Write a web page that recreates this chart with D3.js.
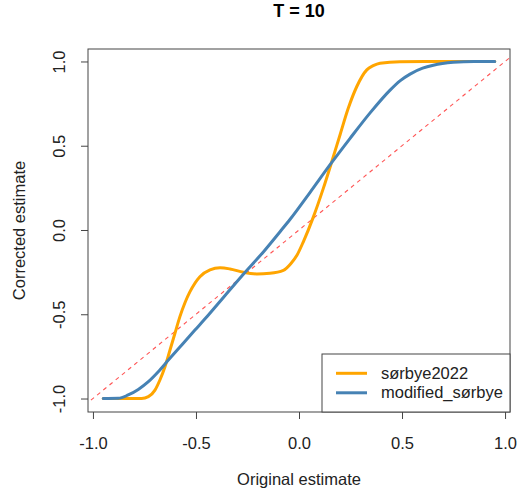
<!DOCTYPE html>
<html>
<head>
<meta charset="utf-8">
<script src="https://cdn.jsdelivr.net/npm/d3@7"></script>
<style>
  body { margin: 0; background: #fff; }
  svg { font-family: "Liberation Sans", Arial, sans-serif; }
</style>
</head>
<body>
<svg id="viz1"></svg>
<script>
// values
var title = "T = 10"
var xTicks = [-1.0, -0.5, 0.0, 0.5, 1.0]
var yTicks = [-1.0, -0.5, 0.0, 0.5, 1.0]
var seriesNames = ["sørbye2022", "modified_sørbye"]
var seriesColors = ["#ffa500", "#4682b4"]

var sorbyeX = [-0.95, -0.85, -0.764, -0.731, -0.699, -0.675, -0.65, -0.626, -0.602, -0.578, -0.553, -0.529, -0.481, -0.432, -0.383, -0.335, -0.27, -0.205, -0.141, -0.076, -0.04, -0.01, 0.021, 0.069, 0.118, 0.159, 0.199, 0.239, 0.28, 0.329, 0.36, 0.393, 0.49, 0.7, 0.95]
var sorbyeY = [-1.0, -1.0, -1.0, -0.989, -0.95, -0.89, -0.81, -0.712, -0.613, -0.514, -0.43, -0.366, -0.277, -0.237, -0.224, -0.231, -0.251, -0.261, -0.257, -0.24, -0.2, -0.15, -0.07, 0.075, 0.247, 0.405, 0.564, 0.722, 0.85, 0.95, 0.975, 0.99, 0.999, 1.0, 1.0]

var modX = [-0.95, -0.877, -0.829, -0.78, -0.731, -0.683, -0.634, -0.569, -0.505, -0.456, -0.367, -0.27, -0.173, -0.092, -0.044, 0.053, 0.15, 0.248, 0.345, 0.442, 0.49, 0.539, 0.6, 0.652, 0.749, 0.85, 0.95]
var modY = [-1.0, -0.999, -0.979, -0.946, -0.9, -0.841, -0.772, -0.682, -0.594, -0.527, -0.40, -0.262, -0.13, -0.01, 0.062, 0.222, 0.386, 0.544, 0.695, 0.83, 0.885, 0.925, 0.96, 0.978, 0.995, 1.0, 1.0]

var width = 522
var height = 498
//plot region (note: "top" is taken by window.top, so prefix these)
var pLeft = 88, pRight = 510, pTop = 49, pBottom = 412
var fontSize = "16.5px"

var svg = d3.select("#viz1")
	.attr("width", width)
	.attr("height", height)

var x = d3.scaleLinear().domain([-1.024, 1.024]).range([pLeft, pRight])
var y = d3.scaleLinear().domain([-1.08, 1.074]).range([pBottom, pTop])
var fmt = d => d.toFixed(1)

svg.append("defs").append("clipPath").attr("id", "clip")
	.append("rect")
	.attr("x", pLeft).attr("y", pTop)
	.attr("width", pRight - pLeft).attr("height", pBottom - pTop)

//title
svg.append("text")
	.attr("x", (pLeft + pRight) / 2)
	.attr("y", 17)
	.attr("text-anchor", "middle")
	.style("font-size", "18px")
	.style("font-weight", "bold")
	.text(title)

//axes
var xAxis = svg.append("g")
	.attr("transform", "translate(0," + pBottom + ")")
	.call(d3.axisBottom(x).tickValues(xTicks).tickSize(7).tickPadding(18).tickFormat(fmt))
xAxis.select(".domain").remove()
xAxis.selectAll("line").attr("stroke", "#444")
xAxis.selectAll("text").style("font-size", fontSize).attr("fill", "#222")
	.style("font-family", "Liberation Sans, Arial, sans-serif")

var yAxis = svg.append("g")
	.attr("transform", "translate(" + pLeft + ",0)")
	.call(d3.axisLeft(y).tickValues(yTicks).tickSize(7).tickFormat(fmt))
yAxis.select(".domain").remove()
yAxis.selectAll("line").attr("stroke", "#444")
yAxis.selectAll("text")
	.attr("x", 0).attr("y", 0).attr("dy", null)
	.attr("text-anchor", "middle")
	.attr("transform", "translate(-23,0) rotate(-90)")
	.style("font-size", fontSize).attr("fill", "#222")
	.style("font-family", "Liberation Sans, Arial, sans-serif")

//axis labels
svg.append("text")
	.attr("x", (pLeft + pRight) / 2)
	.attr("y", 485)
	.attr("text-anchor", "middle")
	.style("font-size", fontSize)
	.attr("fill", "#222")
	.text("Original estimate")

svg.append("text")
	.attr("transform", "translate(25," + (pTop + pBottom) / 2 + ") rotate(-90)")
	.attr("text-anchor", "middle")
	.style("font-size", fontSize)
	.attr("fill", "#222")
	.text("Corrected estimate")

var plot = svg.append("g").attr("clip-path", "url(#clip)")

//identity line
plot.append("line")
	.attr("x1", x(-1.1)).attr("y1", y(-1.1))
	.attr("x2", x(1.1)).attr("y2", y(1.1))
	.attr("stroke", "#f55")
	.attr("stroke-width", 1.1)
	.attr("stroke-dasharray", "4,4")

var line = d3.line()
	.x(d => x(d[0]))
	.y(d => y(d[1]))
	.curve(d3.curveMonotoneX)

plot.append("path")
	.datum(d3.zip(sorbyeX, sorbyeY))
	.attr("d", line)
	.attr("fill", "none")
	.attr("stroke", seriesColors[0])
	.attr("stroke-width", 3)
	.attr("stroke-linecap", "round")

plot.append("path")
	.datum(d3.zip(modX, modY))
	.attr("d", line)
	.attr("fill", "none")
	.attr("stroke", seriesColors[1])
	.attr("stroke-width", 3)
	.attr("stroke-linecap", "round")

//box
svg.append("rect")
	.attr("x", pLeft).attr("y", pTop)
	.attr("width", pRight - pLeft).attr("height", pBottom - pTop)
	.attr("fill", "none")
	.attr("stroke", "#444")

//legend
var legend = svg.append("g")
legend.append("rect")
	.attr("x", 322).attr("y", 354)
	.attr("width", pRight - 322).attr("height", pBottom - 354)
	.attr("fill", "#fff")
	.attr("stroke", "#444")

seriesNames.forEach(function(name, i) {
	var ly = 373.3 + i * 19.5
	legend.append("line")
		.attr("x1", 336).attr("x2", 367)
		.attr("y1", ly).attr("y2", ly)
		.attr("stroke", seriesColors[i])
		.attr("stroke-width", 3)
	legend.append("text")
		.attr("x", 381).attr("y", ly + 5.5)
		.style("font-size", fontSize)
		.attr("fill", "#222")
		.text(name)
})
</script>
</body>
</html>
